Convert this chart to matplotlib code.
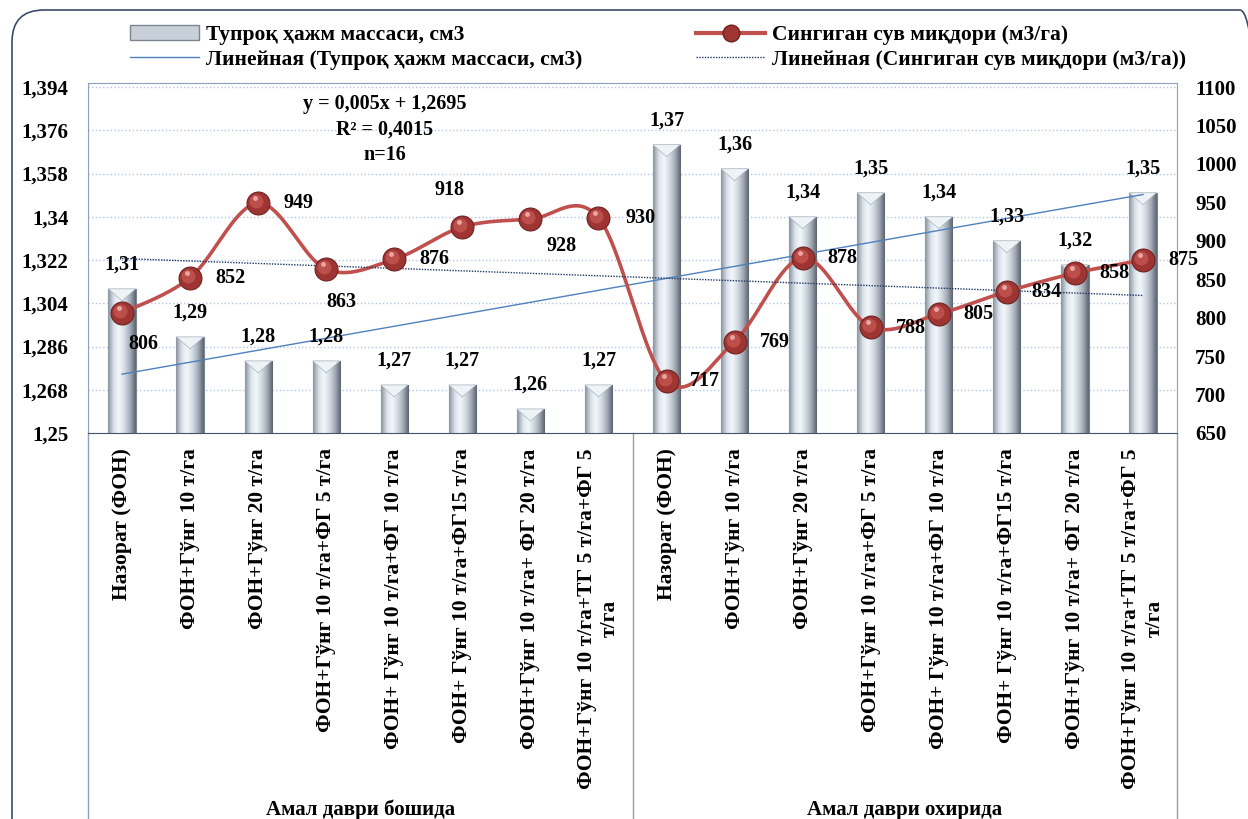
import numpy as np
import matplotlib
matplotlib.use('Agg')
import matplotlib.pyplot as plt
import matplotlib.transforms as mtransforms
from matplotlib.colors import LinearSegmentedColormap
from matplotlib.lines import Line2D
from matplotlib.patches import Patch, Polygon, FancyBboxPatch

plt.rcParams['font.family'] = ['Liberation Serif', 'DejaVu Serif']
plt.rcParams['font.weight'] = 'bold'
plt.rcParams['font.size'] = 14

# data
groups = ['Амал даври бошида', 'Амал даври охирида']
variants = ['Назорат (ФОН)',
            'ФОН+Гўнг 10 т/га',
            'ФОН+Гўнг 20 т/га',
            'ФОН+Гўнг 10 т/га+ФГ 5 т/га',
            'ФОН+ Гўнг 10 т/га+ФГ 10 т/га',
            'ФОН+ Гўнг 10 т/га+ФГ15 т/га',
            'ФОН+Гўнг 10 т/га+ ФГ 20 т/га',
            'ФОН+Гўнг 10 т/га+ТГ 5 т/га+ФГ 5\nт/га']
categories = variants + variants
soil = [1.31, 1.29, 1.28, 1.28, 1.27, 1.27, 1.26, 1.27,
        1.37, 1.36, 1.34, 1.35, 1.34, 1.33, 1.32, 1.35]
water = [806, 852, 949, 863, 876, 918, 928, 930,
         717, 769, 878, 788, 805, 834, 858, 875]
soil_name = 'Тупроқ ҳажм массаси, см3'
water_name = 'Сингиган сув миқдори (м3/га)'
equation = 'y = 0,005x + 1,2695\nR² = 0,4015\nn=16'

# label offsets for the water values (pixels)
water_off = [(21, -31), (40, 0), (40, 0), (15, -33), (40, 0), (-13, 37), (31, -27), (42, 0),
             (38, 0), (40, 0), (40, 0), (40, -1), (40, 0), (40, 0), (40, 0), (40, 0)]

W, H = 1248, 819
fig = plt.figure(figsize=(W / 100, H / 100), dpi=100)
ax = fig.add_axes([88 / W, 1 - 433 / H, (1177 - 88) / W, (433 - 83) / H])
ax2 = ax.twinx()
ax2.set_zorder(ax.get_zorder() + 1)
ax2.patch.set_visible(False)

x = np.arange(1, len(soil) + 1)
ymin = 1.25
ytop = 1.394 + 4 * 0.144 / 345
y2top = 1100 + 4 * 450 / 345

# bars with silver gradient
bars = ax.bar(x, soil, 0.4, color='#c8d0da', edgecolor='#7d8590', linewidth=0.8, zorder=2)
silver = LinearSegmentedColormap.from_list(
    'silver', ['#8a939e', '#d9e1ea', '#f3f7fb', '#d2dae3', '#a2abb6', '#5c646e'])
grad = np.linspace(0, 1, 64).reshape(1, -1)
for b in bars:
    x0, w, h = b.get_x(), b.get_width(), b.get_height()
    im = ax.imshow(grad, extent=(x0, x0 + w, ymin, h), aspect='auto', cmap=silver,
                   origin='lower', zorder=2.1, interpolation='bicubic')
    im.set_clip_path(b)
    ax.add_patch(Polygon([(x0, h), (x0 + w, h), (x0 + w / 2, h - 0.005)],
                         closed=True, facecolor='#eef3f8', edgecolor='#aab3bd',
                         linewidth=0.5, zorder=2.2))
    ax.annotate(f'{h:.2f}'.replace('.', ','), (b.get_x() + w / 2, h), xytext=(0, 24),
                textcoords='offset pixels', ha='center', va='center', fontsize=14.5, zorder=6)

ax.set_xlim(0.5, len(soil) + 0.5)
ax.set_ylim(ymin, ytop)
yt = np.arange(1.25, 1.3945, 0.018)
ax.set_yticks(yt)
ax.set_yticklabels([f'{v:.3f}'.rstrip('0').replace('.', ',') for v in yt])
ax.grid(axis='y', color='#b4c7e7', linestyle=':', linewidth=1)
ax.set_axisbelow(True)

# soil trendline
k1, b1 = np.polyfit(x, soil, 1)
ax.plot([x[0], x[-1]], [k1 * x[0] + b1, k1 * x[-1] + b1], color='#4f81bd', lw=1, zorder=3)

# smoothed water line (catmull-rom like excel)
xs = x.astype(float)
ys = np.array(water, dtype=float)
px = np.concatenate([[xs[0]], xs, [xs[-1]]])
py = np.concatenate([[ys[0]], ys, [ys[-1]]])
cx, cy = [], []
t = np.linspace(0, 1, 40)
for i in range(1, len(px) - 2):
    p0 = np.array([px[i], py[i]])
    p3 = np.array([px[i + 1], py[i + 1]])
    p1 = p0 + (np.array([px[i + 1], py[i + 1]]) - np.array([px[i - 1], py[i - 1]])) / 6
    p2 = p3 - (np.array([px[i + 2], py[i + 2]]) - np.array([px[i], py[i]])) / 6
    seg = ((1 - t) ** 3)[:, None] * p0 + (3 * (1 - t) ** 2 * t)[:, None] * p1 \
        + (3 * (1 - t) * t ** 2)[:, None] * p2 + (t ** 3)[:, None] * p3
    cx.extend(seg[:, 0])
    cy.extend(seg[:, 1])
ax2.plot(cx, cy, color='#c0504d', lw=2.6, zorder=3, solid_capstyle='round')

# sphere markers
ax2.plot(xs, ys, 'o', ms=16.5, mfc='#9e3533', mec='#6e2321', mew=0.8, zorder=4)
hl = mtransforms.offset_copy(ax2.transData, x=-2, y=2, units='dots')
ax2.plot(xs, ys, 'o', ms=10, mfc='#bd4f4b', mec='none', transform=hl, zorder=5)
hl2 = mtransforms.offset_copy(ax2.transData, x=-3, y=5, units='dots')
ax2.plot(xs, ys, 'o', ms=3.5, mfc='#e9a7a3', mec='none', transform=hl2, zorder=6)

for xi, yi, (dx, dy) in zip(xs, water, water_off):
    ax2.annotate(str(yi), (xi, yi), xytext=(dx, dy), textcoords='offset pixels',
                 ha='center', va='center', fontsize=14.5, zorder=7)

# water trendline
k2, b2 = np.polyfit(x, water, 1)
ax2.plot([x[0], x[-1]], [k2 * x[0] + b2, k2 * x[-1] + b2], color='#1f3864', lw=1,
         ls=(0, (1, 1)), zorder=3)

ax2.set_ylim(650, y2top)
ax2.set_yticks(np.arange(650, 1101, 50))

# axes styling
for s in ax.spines.values():
    s.set_color('#8da0bb')
ax.spines['bottom'].set_color('#44546a')
for s in ax2.spines.values():
    s.set_visible(False)
ax.tick_params(axis='y', length=0, pad=14, labelsize=15)
ax2.tick_params(axis='y', length=0, pad=13, labelsize=15)
ax.set_xticks(x)
ax.set_xticklabels(categories, rotation=90, fontsize=15.5)
for lbl in ax.get_xticklabels():
    lbl.set_multialignment('center')
ax.tick_params(axis='x', length=0, pad=11)

# group separators and group names
bt = mtransforms.blended_transform_factory(ax.transData, ax.transAxes)
for xb in [0.5, 8.5, 16.5]:
    ax.plot([xb, xb], [0, -1.2], color='#8da0bb', lw=1, transform=bt, clip_on=False)
ax.text(4.5, -1.077, groups[0], transform=bt, ha='center', va='center', fontsize=15)
ax.text(12.5, -1.077, groups[1], transform=bt, ha='center', va='center', fontsize=15)

fig.text(385 / W, 1 - 94 / H, equation, ha='center', va='top', fontsize=14.5, linespacing=1.38)

# legend
handles = [Patch(facecolor='#c8d0da', edgecolor='#7d8590'),
           Line2D([], [], color='#4f81bd', lw=1),
           Line2D([], [], color='#c0504d', lw=3, marker='o', ms=12, mfc='#9e3533', mec='#6e2321'),
           Line2D([], [], color='#1f3864', lw=1, ls=(0, (1, 1)))]
labels = [soil_name, 'Линейная (' + soil_name + ')',
          water_name, 'Линейная (' + water_name + ')']
fig.legend(handles, labels, ncol=2, loc='upper left', bbox_to_anchor=(111 / W, 1 - 6 / H),
           frameon=False, handlelength=3.2, handletextpad=0.3, columnspacing=5.3,
           labelspacing=0.2, fontsize=15.5)

# rounded outer frame
fig.patches.append(FancyBboxPatch((12, -60), 1260, H - 10 + 60,
                                  boxstyle='round,pad=0,rounding_size=32',
                                  transform=mtransforms.IdentityTransform(),
                                  facecolor='none', edgecolor='#3b4b6b', lw=1.2))

fig.savefig('out.png', dpi=100)
